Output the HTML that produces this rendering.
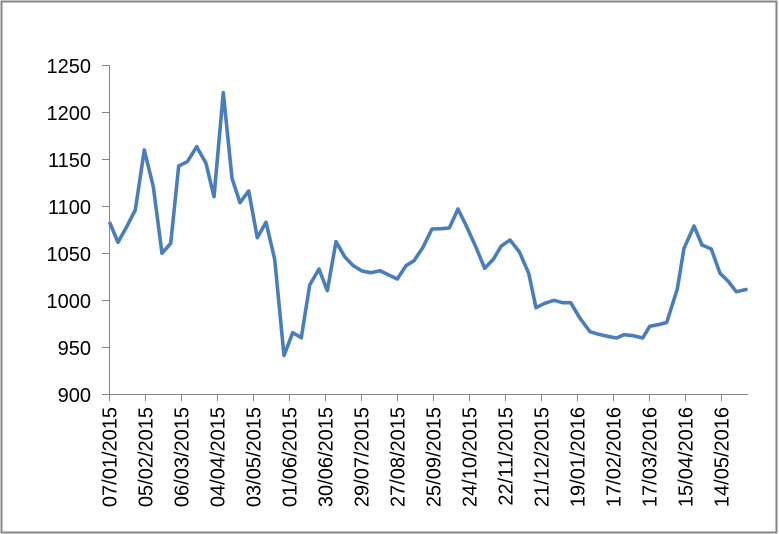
<!DOCTYPE html>
<html>
<head>
<meta charset="utf-8">
<style>
  html, body { margin: 0; padding: 0; background: #ffffff; }
  svg { display: block; }
  text { font-family: "Liberation Sans", Arial, sans-serif; font-size: 20px; fill: #000; }
</style>
</head>
<body>
<svg width="779" height="534" viewBox="0 0 779 534" xmlns="http://www.w3.org/2000/svg">
  <rect x="0" y="0" width="779" height="534" fill="#ffffff"/>
  <!-- outer border -->
  <rect x="1.5" y="1.5" width="775" height="531" fill="none" stroke="#868686" stroke-width="2"/>

  <!-- axes -->
  <g stroke="#868686" stroke-width="1" fill="none" shape-rendering="crispEdges">
    <line x1="109.5" y1="65" x2="109.5" y2="395"/>
    <line x1="102" y1="394.5" x2="748" y2="394.5"/>
    <!-- y ticks -->
    <line x1="102" y1="65.5" x2="109.5" y2="65.5"/>
    <line x1="102" y1="112.5" x2="109.5" y2="112.5"/>
    <line x1="102" y1="159.5" x2="109.5" y2="159.5"/>
    <line x1="102" y1="206.5" x2="109.5" y2="206.5"/>
    <line x1="102" y1="253.5" x2="109.5" y2="253.5"/>
    <line x1="102" y1="300.5" x2="109.5" y2="300.5"/>
    <line x1="102" y1="347.5" x2="109.5" y2="347.5"/>
    <!-- x ticks -->
    <line x1="109.5" y1="394.5" x2="109.5" y2="401"/>
    <line x1="145.5" y1="394.5" x2="145.5" y2="401"/>
    <line x1="181.5" y1="394.5" x2="181.5" y2="401"/>
    <line x1="217.5" y1="394.5" x2="217.5" y2="401"/>
    <line x1="253.5" y1="394.5" x2="253.5" y2="401"/>
    <line x1="289.5" y1="394.5" x2="289.5" y2="401"/>
    <line x1="325.5" y1="394.5" x2="325.5" y2="401"/>
    <line x1="361.5" y1="394.5" x2="361.5" y2="401"/>
    <line x1="397.5" y1="394.5" x2="397.5" y2="401"/>
    <line x1="433.5" y1="394.5" x2="433.5" y2="401"/>
    <line x1="469.5" y1="394.5" x2="469.5" y2="401"/>
    <line x1="505.5" y1="394.5" x2="505.5" y2="401"/>
    <line x1="541.5" y1="394.5" x2="541.5" y2="401"/>
    <line x1="577.5" y1="394.5" x2="577.5" y2="401"/>
    <line x1="613.5" y1="394.5" x2="613.5" y2="401"/>
    <line x1="649.5" y1="394.5" x2="649.5" y2="401"/>
    <line x1="685.5" y1="394.5" x2="685.5" y2="401"/>
    <line x1="721.5" y1="394.5" x2="721.5" y2="401"/>
  </g>

  <!-- y labels -->
  <g text-anchor="end">
    <text x="91" y="73">1250</text>
    <text x="91" y="120">1200</text>
    <text x="91" y="167">1150</text>
    <text x="91" y="214">1100</text>
    <text x="91" y="261">1050</text>
    <text x="91" y="308">1000</text>
    <text x="91" y="355">950</text>
    <text x="91" y="402">900</text>
  </g>

  <!-- x labels (rotated) -->
  <g text-anchor="end">
    <text transform="translate(116.7,407) rotate(-90)">07/01/2015</text>
    <text transform="translate(152.7,407) rotate(-90)">05/02/2015</text>
    <text transform="translate(188.7,407) rotate(-90)">06/03/2015</text>
    <text transform="translate(224.7,407) rotate(-90)">04/04/2015</text>
    <text transform="translate(260.7,407) rotate(-90)">03/05/2015</text>
    <text transform="translate(296.7,407) rotate(-90)">01/06/2015</text>
    <text transform="translate(332.7,407) rotate(-90)">30/06/2015</text>
    <text transform="translate(368.7,407) rotate(-90)">29/07/2015</text>
    <text transform="translate(404.7,407) rotate(-90)">27/08/2015</text>
    <text transform="translate(440.7,407) rotate(-90)">25/09/2015</text>
    <text transform="translate(476.7,407) rotate(-90)">24/10/2015</text>
    <text transform="translate(512.7,407) rotate(-90)">22/11/2015</text>
    <text transform="translate(548.7,407) rotate(-90)">21/12/2015</text>
    <text transform="translate(584.7,407) rotate(-90)">19/01/2016</text>
    <text transform="translate(620.7,407) rotate(-90)">17/02/2016</text>
    <text transform="translate(656.7,407) rotate(-90)">17/03/2016</text>
    <text transform="translate(692.7,407) rotate(-90)">15/04/2016</text>
    <text transform="translate(728.7,407) rotate(-90)">14/05/2016</text>
  </g>

  <!-- series -->
  <polyline fill="none" stroke="#4a7ebb" stroke-width="3.6" stroke-linejoin="round" stroke-linecap="round"
    points="110,223.3 118,242.3 126.7,226.7 135.3,210 144.3,150 153.3,186.7 162,253.3 170.7,243.3 178.7,166 187.3,161.7 196.7,146.7 206,163.3 214,196.7 223.3,92.7 232,178.3 240,202.7 248.7,191 257.3,237.7 266,222.3 274.7,259.3 284,355.5 292.7,332.7 301.3,337.7 309.7,285 319,269 327.3,290.7 336,241.7 344.7,256.7 353.3,265.7 362,271 370.7,272.7 380,270.7 388.7,275 397.3,279 406,265.7 414,260.7 422.7,247.7 432,229 440.7,228.7 449.3,228 458,209 466.7,226.7 475.3,245.7 484.7,268.3 493.3,259.3 501.3,246 510,240 519.3,251.7 528.7,273.3 536,307.7 544.7,303.3 554,300.3 562.7,302.7 570.7,302.7 580,318.3 590,331.7 598.7,334.3 607.3,336.3 616.7,338 624,334.7 633.3,335.7 642.7,338 649.7,326.3 658,324.7 666.7,322.5 677.3,289 684,248.3 694,226 702,245 711.3,249 720,273.3 728,281 736.3,291.7 746,289.5"/>
</svg>
</body>
</html>
